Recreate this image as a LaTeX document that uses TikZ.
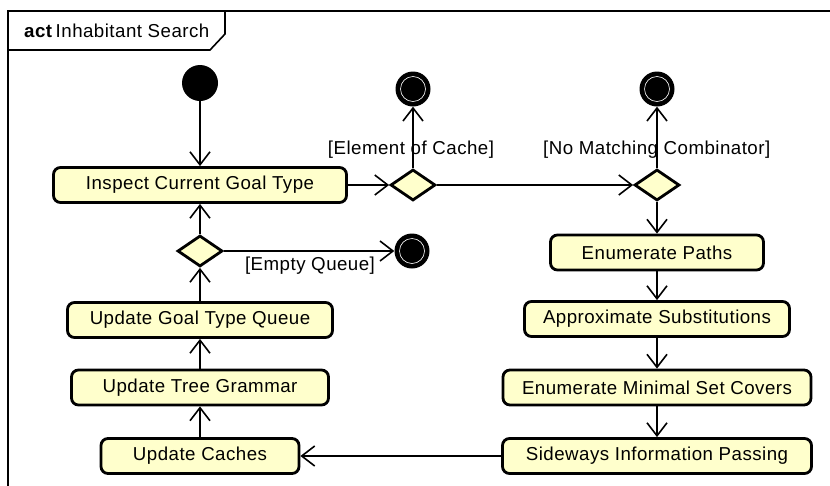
\documentclass[tikz,border=0pt]{standalone}
\usepackage{fontspec}
\setmainfont{Liberation Sans}[LetterSpace=2.5]
\usetikzlibrary{arrows.meta,shapes.geometric}
\definecolor{actfill}{RGB}{255,255,204}
\begin{document}
\begin{tikzpicture}[x=1pt,y=-1pt,
  txt/.style={font=\fontsize{18.7}{20}\selectfont},
  actbox/.style={draw, line width=2.8pt, rounded corners=7pt, fill=actfill, inner sep=0pt, minimum height=35pt, txt},
  decision/.style={draw, diamond, line width=2.8pt, fill=actfill, inner sep=0pt, minimum width=45pt, minimum height=31pt},
  initnode/.style={circle, fill=black, inner sep=0pt, minimum size=36pt},
  finalnode/.style={circle, fill=black, inner sep=0pt, minimum size=35pt},
  flow/.style={line width=1.6pt, -{Straight Barb[length=13pt,width=20pt,line width=1.6pt]}},
  guard/.style={txt, inner sep=0pt},
]
\useasboundingbox (0,0) rectangle (830,485);
\fill[white] (0,0) rectangle (830,485);
% frame
\draw[line width=2pt] (8,490) -- (8,11) -- (835,11);
\draw[line width=1.6pt] (8,50) -- (210,50) -- (225,34) -- (225,11);
\node[anchor=west, txt, inner sep=0pt] (title) at (24,31) {\textbf{act}\,Inhabitant Search};

% nodes
\node[initnode] (start) at (200,83) {};
\node[actbox, minimum width=293pt] (inspect) at (200,185) {Inspect Current Goal Type};
\node[decision] (dq) at (200,251) {};
\node[finalnode] (feq) at (412,251) {};
\node[actbox, minimum width=265pt] (ugtq) at (200,320) {Update Goal Type Queue};
\node[actbox, minimum width=257pt] (utg) at (200,387.5) {Update Tree Grammar};
\node[actbox, minimum width=198pt] (uc) at (200,456) {Update Caches};

\node[decision] (dcache) at (413,185) {};
\node[finalnode] (fcache) at (413,89) {};
\node[decision] (dmatch) at (657,185) {};
\node[finalnode] (fmatch) at (657,89) {};

\node[actbox, minimum width=213pt] (ep) at (657,252.5) {Enumerate Paths};
\node[actbox, minimum width=265pt] (as) at (657,319) {Approximate Substitutions};
\node[actbox, minimum width=308pt] (emsc) at (657,387.5) {Enumerate Minimal Set Covers};
\node[actbox, minimum width=309pt] (sip) at (657,456) {Sideways Information Passing};

% final node rings
\foreach \f in {feq,fcache,fmatch}{
  \draw[white, line width=0.6pt] (\f) circle (12.5pt);
}

% guards
\node[guard] (gcache) at (411,150) {[Element of Cache]};
\node[guard, anchor=west] (gmatch) at (543,150) {[No Matching Combinator]};
\node[guard] (gempty) at (310,266) {[Empty Queue]};

% connectors
\draw[flow] (start) -- (inspect);
\draw[flow] (dq) -- (inspect);
\draw[flow] (ugtq) -- (dq);
\draw[flow] (dq) -- (feq);
\draw[flow] (utg) -- (ugtq);
\draw[flow] (uc) -- (utg);
\draw[flow] (inspect) -- (dcache);
\draw[flow] (dcache) -- (fcache);
\draw[flow] (dcache) -- (dmatch);
\draw[flow] (dmatch) -- (fmatch);
\draw[flow] (dmatch) -- (ep);
\draw[flow] (ep) -- (as);
\draw[flow] (as) -- (emsc);
\draw[flow] (emsc) -- (sip);
\draw[flow] (sip) -- (uc);
\end{tikzpicture}
\end{document}
